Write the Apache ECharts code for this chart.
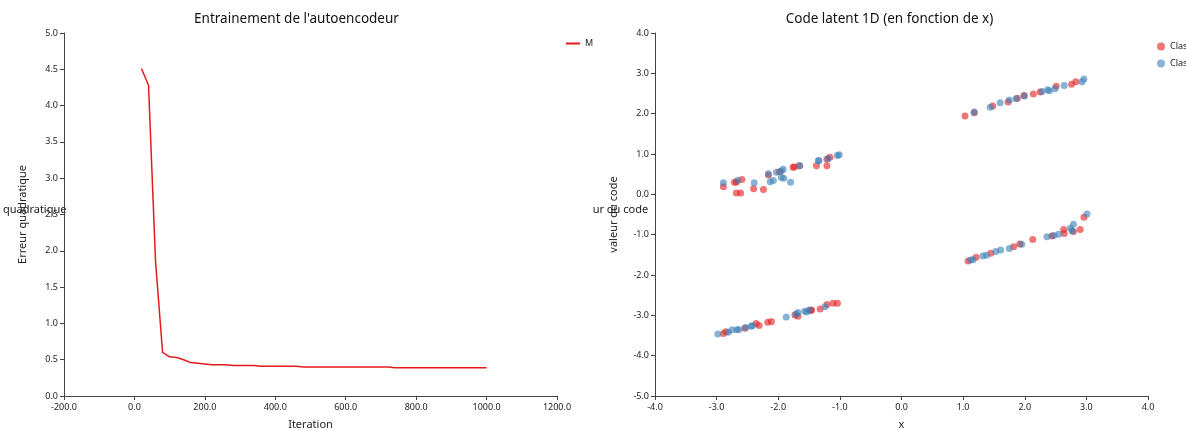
<!DOCTYPE html>
<html>
<head>
<meta charset="utf-8">
<script src="https://cdn.jsdelivr.net/npm/echarts@6/dist/echarts.min.js"></script>
<style>
  body { margin: 0; background: #fff; }
  #wrap { width: 1186px; height: 430px; display: flex; }
  .box { width: 593px; height: 430px; overflow: hidden; }
</style>
</head>
<body>
<div id="wrap">
  <div class="box" id="loss"></div>
  <div class="box" id="latent"></div>
</div>
<script>
// courbe d'apprentissage
var iterations = [20,40,60,80,100,120,140,160,180,200,220,240,260,280,300,320,340,360,380,400,
                  420,440,460,480,500,520,540,560,580,600,620,640,660,680,700,720,740,760,780,800,
                  820,840,860,880,900,920,940,960,980,1000];
var mse = [4.51,4.28,1.85,0.60,0.54,0.53,0.50,0.46,0.45,0.44,0.43,0.43,0.43,0.42,0.42,0.42,0.42,0.41,0.41,0.41,
           0.41,0.41,0.41,0.40,0.40,0.40,0.40,0.40,0.40,0.40,0.40,0.40,0.40,0.40,0.40,0.40,0.39,0.39,0.39,0.39,
           0.39,0.39,0.39,0.39,0.39,0.39,0.39,0.39,0.39,0.39];

// code latent, classe 0 (rouge) et classe 1 (bleu)
var classe0 = [
  [-2.89,0.19],[-2.71,0.30],[-2.68,0.30],[-2.59,0.37],[-2.68,0.03],[-2.61,0.03],[-2.40,0.14],[-2.24,0.12],
  [-2.16,0.48],[-1.98,0.56],[-1.76,0.67],[-1.74,0.68],[-1.66,0.71],[-1.38,0.71],[-1.21,0.71],[-1.21,0.87],[-1.16,0.92],
  [-2.89,-3.45],[-2.85,-3.41],[-2.54,-3.32],[-2.36,-3.20],[-2.31,-3.25],[-2.17,-3.17],[-2.11,-3.15],[-1.73,-2.99],
  [-1.68,-3.02],[-1.47,-2.88],[-1.46,-2.87],[-1.32,-2.84],[-1.21,-2.73],[-1.11,-2.70],[-1.04,-2.70],
  [1.03,1.94],[1.18,2.02],[1.48,2.19],[1.73,2.29],[1.88,2.38],[1.99,2.45],[2.14,2.49],[2.25,2.54],[2.51,2.68],
  [2.76,2.73],[2.83,2.79],
  [1.08,-1.65],[1.21,-1.56],[1.45,-1.46],[1.82,-1.30],[1.92,-1.23],[2.13,-1.12],[2.44,-1.03],[2.63,-0.87],
  [2.64,-0.97],[2.79,-0.92],[2.90,-0.87],[2.96,-0.57]
];
var classe1 = [
  [-2.89,0.29],[-2.66,0.35],[-2.39,0.29],[-2.16,0.51],[-2.13,0.31],[-2.08,0.34],[-2.03,0.55],[-1.95,0.58],
  [-1.92,0.62],[-1.95,0.42],[-1.91,0.40],[-1.80,0.30],[-1.65,0.71],[-1.35,0.83],[-1.34,0.84],[-1.19,0.89],
  [-1.04,0.96],[-1.01,0.98],
  [-2.98,-3.46],[-2.81,-3.42],[-2.75,-3.36],[-2.67,-3.36],[-2.64,-3.35],[-2.53,-3.30],[-2.44,-3.27],[-2.42,-3.26],
  [-1.87,-3.04],[-1.71,-2.97],[-1.68,-2.93],[-1.57,-2.90],[-1.54,-2.92],[-1.50,-2.87],[-1.24,-2.79],
  [1.18,2.04],[1.44,2.16],[1.60,2.27],[1.75,2.34],[1.86,2.37],[1.99,2.44],[2.28,2.55],[2.37,2.59],[2.40,2.57],
  [2.49,2.62],[2.64,2.70],[2.93,2.79],[2.96,2.86],
  [1.12,-1.63],[1.16,-1.62],[1.32,-1.53],[1.38,-1.51],[1.53,-1.42],[1.61,-1.38],[1.75,-1.34],[1.95,-1.24],
  [2.36,-1.05],[2.47,-1.02],[2.55,-0.99],[2.74,-0.84],[2.79,-0.74],[2.77,-0.91],[3.01,-0.49]
];

var police = 'Noto Sans';
function fmt(v) { return v.toFixed(1); }

function axe(nom, gap, min, max, step, marge) {
  return {
    type: 'value', min: min, max: max, interval: step,
    name: nom, nameLocation: 'middle', nameGap: gap,
    nameTextStyle: { fontFamily: police, fontSize: 11, color: '#222' },
    axisLine: { show: true, onZero: false, lineStyle: { color: '#444' } },
    axisTick: { show: true, length: 4, lineStyle: { color: '#444' } },
    axisLabel: { formatter: fmt, fontFamily: police, fontSize: 9, color: '#222', margin: marge },
    splitLine: { show: false }
  };
}

function titre(t) {
  return { text: t, left: 'center', top: 7,
           textStyle: { fontFamily: police, fontSize: 13.5, fontWeight: 'normal', color: '#111' } };
}

function texteHorizontal(t) {
  return [{ type: 'text', x: 17, y: 210,
            style: { text: t, align: 'center', verticalAlign: 'middle', fontFamily: police, fontSize: 11, fill: '#222' } }];
}

var lossChart = echarts.init(document.getElementById('loss'));
lossChart.setOption({
  animation: false,
  title: titre("Entrainement de l'autoencodeur"),
  legend: { left: 561, top: 34, itemWidth: 14, itemHeight: 10, icon: 'path://M0,4L14,4L14,6L0,6Z',
            textStyle: { fontFamily: police, fontSize: 9, color: '#222' }, data: ['MSE'] },
  grid: { left: 64, right: 36, top: 33, bottom: 34, outerBoundsMode: 'none' },
  xAxis: axe('Iteration', 23, -200, 1200, 200, 7),
  yAxis: axe('Erreur quadratique', 36, 0, 5, 0.5, 6),
  graphic: texteHorizontal('Erreur quadratique'),
  series: [{
    name: 'MSE', type: 'line', showSymbol: false,
    lineStyle: { color: '#e41a1c', width: 1.5 }, itemStyle: { color: '#e41a1c' },
    data: iterations.map(function (it, i) { return [it, mse[i]]; })
  }]
});

var latentChart = echarts.init(document.getElementById('latent'));
latentChart.setOption({
  animation: false,
  title: titre('Code latent 1D (en fonction de x)'),
  legend: { left: 559, top: 37, orient: 'vertical', itemWidth: 8, itemHeight: 8, itemGap: 8, icon: 'circle',
            textStyle: { fontFamily: police, fontSize: 9, color: '#222' }, data: ['Classe 0', 'Classe 1'] },
  grid: { left: 62, right: 38, top: 33, bottom: 34, outerBoundsMode: 'none' },
  xAxis: axe('x', 23, -4, 4, 1, 7),
  yAxis: axe('valeur du code', 36, -5, 4, 1, 6),
  graphic: texteHorizontal('valeur du code'),
  series: [
    { name: 'Classe 0', type: 'scatter', symbolSize: 7, data: classe0,
      itemStyle: { color: '#e41a1c', opacity: 0.6 } },
    { name: 'Classe 1', type: 'scatter', symbolSize: 7, data: classe1,
      itemStyle: { color: '#377eb8', opacity: 0.6 } }
  ]
});
</script>
</body>
</html>
